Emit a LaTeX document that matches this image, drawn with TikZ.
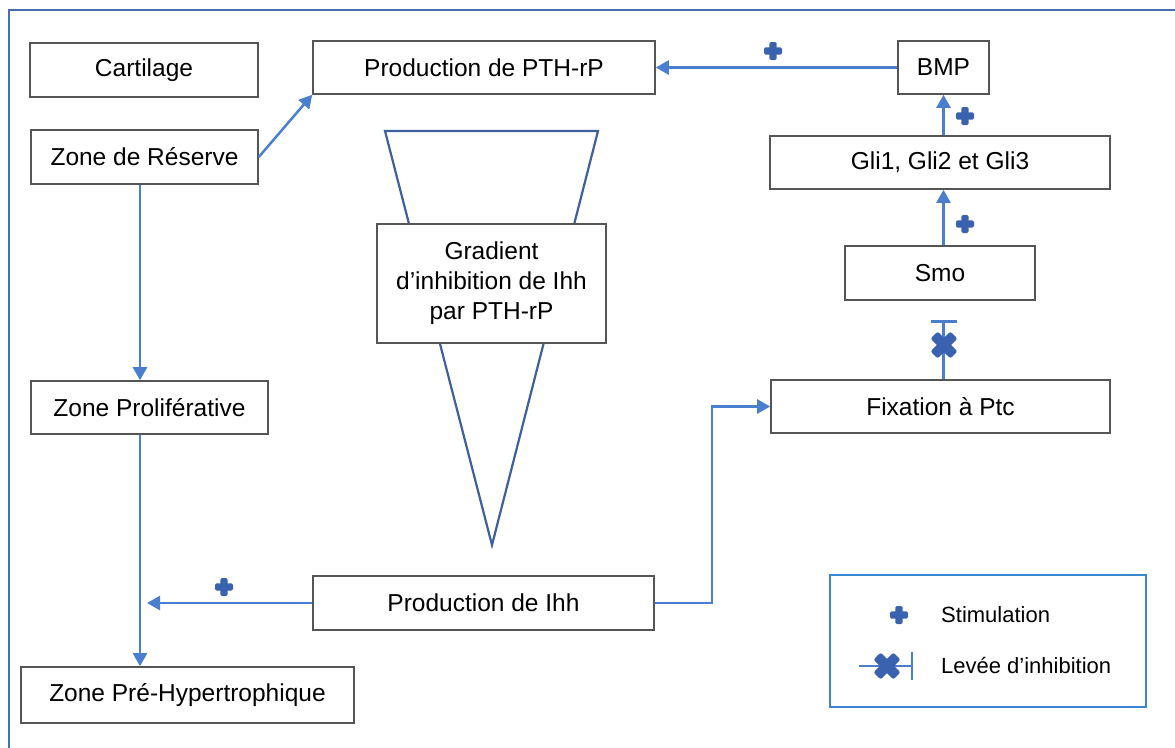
\documentclass[tikz,border=0pt]{standalone}
\usepackage{fontspec}
\setmainfont{Liberation Sans}
\usetikzlibrary{arrows.meta}
\definecolor{arrowc}{HTML}{4A7FD0}
\definecolor{plusc}{HTML}{3B62AE}
\definecolor{framec}{HTML}{4A6CB0}
\definecolor{tric}{HTML}{3F5F9F}
\definecolor{legc}{HTML}{3A86D0}
\definecolor{boxc}{HTML}{555555}
\tikzset{
  box/.style={draw=boxc, line width=1.6pt, fill=white, inner sep=0pt, align=center,
    font=\fontsize{24.5}{30}\selectfont},
  conn/.style={draw=arrowc, line width=2.5pt},
  arr/.style={conn, -{Triangle[length=13pt,width=14pt]}},
  plusmark/.pic={
    \fill[plusc, rounded corners=1.5pt] (-9,-3.7) rectangle (9,3.7);
    \fill[plusc, rounded corners=1.5pt] (-3.7,-9) rectangle (3.7,9);
  },
  xmark/.pic={
    \begin{scope}[rotate=45]
    \fill[plusc, rounded corners=2pt] (-14,-5) rectangle (14,5);
    \fill[plusc, rounded corners=2pt] (-5,-14) rectangle (5,14);
    \end{scope}
  }
}
\begin{document}
\begin{tikzpicture}[x=1pt,y=-1pt]
\useasboundingbox (0,0) rectangle (1175,747);
\fill[white] (0,0) rectangle (1175,747);
\draw[framec, line width=2.2pt] (9,760) -- (9,10) -- (1190,10);

% triangle (gradient)
\draw[tric, line width=2.2pt, line join=miter] (385,131) -- (598,131) -- (492,545) -- cycle;

% boxes
\node[box, minimum width=228pt, minimum height=54pt] (cart) at (144,70) {Cartilage};
\node[box, minimum width=227pt, minimum height=54pt] (res) at (144.5,157) {Zone de Réserve};
\node[box, minimum width=342pt, minimum height=53pt] (pth) at (484,67.5) {Production de PTH-rP};
\node[box, minimum width=91pt, minimum height=53pt] (bmp) at (943.5,67.5) {BMP};
\node[box, minimum width=340pt, minimum height=53pt] (gli) at (940,162.5) {Gli1, Gli2 et Gli3};
\node[box, minimum width=190pt, minimum height=54pt] (smo) at (940,273) {Smo};
\node[box, minimum width=339pt, minimum height=53pt] (fix) at (940.5,406.5) {Fixation à Ptc};
\node[box, minimum width=237pt, minimum height=53pt] (prol) at (149.5,407.5) {Zone Proliférative};
\node[box, minimum width=333pt, minimum height=56pt] (pre) at (187.5,695) {Zone Pré-Hypertrophique};
\node[box, minimum width=341pt, minimum height=54pt] (ihh) at (483.5,603) {Production de Ihh};
\node[box, minimum width=229pt, minimum height=119pt] (grad) at (491.5,283.5) {Gradient\\d’inhibition de Ihh\\par PTH-rP};

% free ends
\coordinate (ihhin) at (147,603);
\coordinate (smoinh) at (945,320);
\coordinate (bend1) at (712,603);

% connectors
\draw[arr] (res.east) -- (pth.south west);
\draw[arr] (res.south -| 140,0) -- (prol.north -| 140,0);
\draw[arr] (prol.south -| 140,0) -- (pre.north -| 140,0);
\draw[arr] (ihh.west) -- (ihhin);
\draw[arr, line join=miter] (ihh.east) -- (bend1) |- (fix.west);
\draw[arr] (bmp.west) -- (pth.east);
\draw[arr] (gli.north -| bmp.south) -- (bmp.south);
\draw[arr] (smo.north -| bmp.south) -- (gli.south -| bmp.south);
\draw[conn, -{Bar[width=26pt,line width=2.5pt]}] (fix.north -| bmp.south) -- (smoinh -| bmp.south);

% signs
\pic at (773,51) {plusmark};
\pic at (965,116) {plusmark};
\pic at (965,224) {plusmark};
\pic at (224,587) {plusmark};
\pic at (944,345) {xmark};

% legend
\node[draw=legc, line width=2.2pt, minimum width=316pt, minimum height=132pt, inner sep=0pt] (leg) at (988,641) {};
\pic at (899,615) {plusmark};
\node[anchor=west, font=\fontsize{22}{26}\selectfont, inner sep=0pt] (lstim) at (941,615) {Stimulation};
\coordinate (lstart) at (859,666);
\coordinate (lend) at (913,666);
\draw[conn, -{Bar[width=28pt,line width=2.5pt]}] (lstart) -- (lend);
\pic at (887,666) {xmark};
\node[anchor=west, font=\fontsize{22}{26}\selectfont, inner sep=0pt] (linh) at (941,665) {Levée d’inhibition};
\end{tikzpicture}
\end{document}
